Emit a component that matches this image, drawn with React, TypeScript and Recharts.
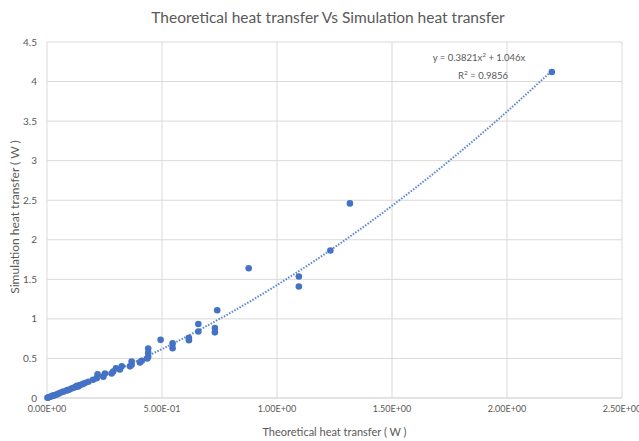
import React from "react";
import { ScatterChart, Scatter, XAxis, YAxis, CartesianGrid } from "recharts";

// theoretical heat transfer (W)
const theoretical = [
  2.195, 1.317, 1.232, 1.095, 1.095, 0.877, 0.74, 0.73, 0.73, 0.658,
  0.658, 0.617, 0.617, 0.546, 0.546, 0.494, 0.44, 0.44, 0.44, 0.436,
  0.412, 0.404, 0.368, 0.368, 0.361, 0.325, 0.317, 0.3, 0.288, 0.281,
  0.252, 0.245, 0.22, 0.216, 0.2, 0.18, 0.165, 0.155, 0.143, 0.136,
  0.13, 0.125, 0.115, 0.107, 0.095, 0.09, 0.085, 0.071, 0.06, 0.05,
  0.042, 0.035, 0.03, 0.025, 0.018, 0.01, 0.005, 0.002,
];

// simulation heat transfer (W), same order
const simulation = [
  4.12, 2.46, 1.865, 1.535, 1.41, 1.64, 1.11, 0.885, 0.83, 0.935,
  0.84, 0.76, 0.73, 0.69, 0.63, 0.735, 0.625, 0.57, 0.52, 0.5,
  0.47, 0.45, 0.46, 0.42, 0.4, 0.4, 0.36, 0.375, 0.335, 0.31,
  0.31, 0.27, 0.3, 0.25, 0.23, 0.205, 0.19, 0.175, 0.165, 0.145,
  0.155, 0.14, 0.13, 0.12, 0.105, 0.1, 0.095, 0.08, 0.07, 0.055,
  0.045, 0.038, 0.032, 0.03, 0.02, 0.012, 0.006, 0.003,
];

// polynomial trendline y = 0.3821x^2 + 1.046x, sampled
const trendX = [0, 0.2, 0.4, 0.6, 0.8, 1.0, 1.2, 1.4, 1.6, 1.8, 2.0, 2.2];
const trendY = [0, 0.2245, 0.4795, 0.7652, 1.0813, 1.4281, 1.8054, 2.2133, 2.6518, 3.1208, 3.6204, 4.1506];

const xTicks = [0, 0.5, 1, 1.5, 2, 2.5];
const xTickLabels = ["0.00E+00", "5.00E-01", "1.00E+00", "1.50E+00", "2.00E+00", "2.50E+00"];
const yTicks = [0, 0.5, 1, 1.5, 2, 2.5, 3, 3.5, 4, 4.5];

const points = theoretical.map((x, i) => ({ x, y: simulation[i] }));
const trend = trendX.map((x, i) => ({ x, y: trendY[i] }));

const font = "Lato, 'Noto Sans', sans-serif";
const textColor = "#595959";
const blue = "#4472C4";

const Dot = (props: any) => <circle cx={props.cx} cy={props.cy} r={3.3} fill={blue} />;

const App = () => {
  return (
    <div style={{ position: "absolute", left: 0, top: 0, width: 639, height: 441, background: "#fff", fontFamily: font }}>
      <div style={{ position: "absolute", top: 8, left: 0, width: 656, textAlign: "center", fontSize: 15.5, color: textColor }}>
        Theoretical heat transfer Vs Simulation heat transfer
      </div>

      <ScatterChart width={639} height={441} margin={{ top: 42, right: 17, bottom: 0, left: 0 }}>
        <CartesianGrid stroke="#d9d9d9" strokeWidth={1} />
        <XAxis
          type="number"
          dataKey="x"
          domain={[0, 2.5]}
          ticks={xTicks}
          tickFormatter={(v, i) => xTickLabels[i]}
          tickLine={false}
          axisLine={{ stroke: "#d9d9d9" }}
          height={43}
          tickMargin={2}
          tick={{ fontSize: 9, fill: textColor, fontFamily: font }}
          interval={0}
        />
        <YAxis
          type="number"
          dataKey="y"
          domain={[0, 4.5]}
          ticks={yTicks}
          tickLine={false}
          axisLine={false}
          width={47}
          tickMargin={4}
          tick={{ fontSize: 10, fill: textColor, fontFamily: font }}
          interval={0}
        />
        <Scatter
          data={trend}
          isAnimationActive={false}
          line={{ stroke: "#5b87d0", strokeWidth: 2, strokeDasharray: "1.5 1.5" }}
          lineJointType="monotoneX"
          shape={() => <g />}
        />
        <Scatter data={points} fill={blue} shape={Dot} isAnimationActive={false} />
      </ScatterChart>

      <div style={{ position: "absolute", left: 419, top: 47, width: 120, textAlign: "center", fontSize: 9.5, color: textColor, lineHeight: "15px" }}>
        <div>
          y = 0.3821x<sup style={{ fontSize: 6.5 }}>2</sup> + 1.046x
        </div>
        <div style={{ paddingLeft: 8 }}>
          R<sup style={{ fontSize: 6.5 }}>2</sup> = 0.9856
        </div>
      </div>

      <div style={{ position: "absolute", left: 0, top: 425, width: 669, textAlign: "center", fontSize: 11, color: textColor }}>
        Theoretical heat transfer ( W )
      </div>

      <div
        style={{
          position: "absolute",
          left: 15 - 110,
          top: 217 - 8,
          width: 220,
          height: 16,
          textAlign: "center",
          fontSize: 12,
          color: textColor,
          transform: "rotate(-90deg)",
        }}
      >
        Simulation heat transfer ( W )
      </div>
    </div>
  );
};

export default App;
